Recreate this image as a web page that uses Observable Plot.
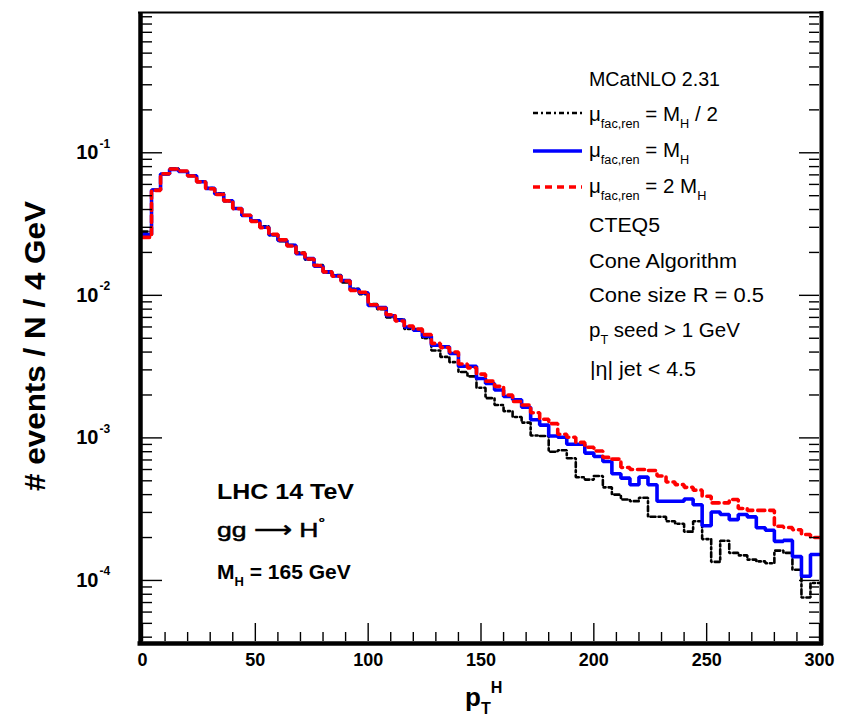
<!DOCTYPE html>
<html><head><meta charset="utf-8">
<script src="https://cdn.jsdelivr.net/npm/d3@7"></script>
<script src="https://cdn.jsdelivr.net/npm/@observablehq/plot@0.6"></script>
<style>
body{margin:0;background:#fff}
svg{font-family:"Liberation Sans",Arial,Helvetica,sans-serif}
</style>
</head><body><div id="chart"></div>
<script>
// Bin lower edges (GeV), 4 GeV bins
const ptLow = [0,4,8,12,16,20,24,28,32,36,40,44,48,52,56,60,64,68,72,76,80,84,88,92,96,
100,104,108,112,116,120,124,128,132,136,140,144,148,152,156,160,164,168,172,176,180,184,188,192,196,
200,204,208,212,216,220,224,228,232,236,240,244,248,252,256,260,264,268,272,276,280,284,288,292,296];
const ptMax = 300;

// mu = MH / 2 (black dash-dot)
const halfMH = [0.0280,0.0550,0.0708,0.0775,0.0738,0.0692,0.0630,0.0565,0.0520,0.0458,
0.0405,0.0362,0.0336,0.0305,0.0264,0.0240,0.0225,0.0200,0.0178,0.0163,
0.0145,0.0139,0.0123,0.0111,0.0102,0.0087,0.0080,0.0070,0.0068,0.0058,
0.0058,0.0050,0.0041,0.0037,0.0034,0.0029,0.0027,0.00225,0.0019,0.0017,
0.00154,0.0014,0.00128,0.00104,0.00103,0.00080,0.00082,0.00072,0.00053,0.00051,
0.00054,0.00045,0.00040,0.00037,0.00036,0.00038,0.00028,0.00028,0.00026,0.00025,
0.00022,0.00026,0.000195,0.000135,0.00019,0.000156,0.00015,0.00014,0.000136,0.000132,
0.000162,0.000156,0.000119,0.000076,0.000096];

// mu = MH (blue solid)
const oneMH = [0.0267,0.0548,0.0710,0.0765,0.0740,0.0690,0.0627,0.0563,0.0514,0.0461,
0.0407,0.0363,0.0334,0.0300,0.0266,0.0243,0.0224,0.0196,0.0181,0.0160,
0.0146,0.0137,0.0127,0.0110,0.0104,0.0085,0.0082,0.0072,0.0067,0.0060,
0.0057,0.00516,0.00447,0.00435,0.00391,0.00318,0.00318,0.00261,0.00241,0.00217,
0.00195,0.00185,0.00164,0.00134,0.00123,0.00103,0.00101,0.000903,0.000903,0.000782,
0.00074,0.000683,0.00056,0.000522,0.000469,0.000531,0.000469,0.000359,0.000359,0.000359,
0.000373,0.00034,0.000242,0.000302,0.00029,0.000267,0.00029,0.000279,0.000234,0.000225,
0.000188,0.000191,0.000147,0.000107,0.000152];

// mu = 2 MH (red dashed)
const twoMH = [0.0255,0.0545,0.0712,0.0770,0.0745,0.0688,0.0625,0.0560,0.0510,0.0460,
0.0405,0.0365,0.0330,0.0298,0.0268,0.0245,0.0222,0.0198,0.0180,0.0162,
0.0146,0.0136,0.0126,0.0108,0.0105,0.0086,0.0081,0.0073,0.0066,0.0061,
0.0058,0.0053,0.0046,0.0043,0.0040,0.0033,0.0031,0.0028,0.0025,0.0023,
0.0020,0.0018,0.0017,0.00150,0.00135,0.00126,0.00106,0.00101,0.00093,0.00086,
0.00081,0.00073,0.00071,0.00062,0.00060,0.00060,0.00059,0.00054,0.00049,0.00047,
0.00045,0.00043,0.00039,0.00035,0.00035,0.00037,0.00032,0.00031,0.00031,0.00031,
0.00024,0.000235,0.000227,0.00021,0.00020];

// Axis ticks and labels
const xMajor = [0,50,100,150,200,250,300];
const xLabels = ["0","50","100","150","200","250","300"];
const xMinor = [10,20,30,40,60,70,80,90,110,120,130,140,160,170,180,190,210,220,230,240,260,270,280,290];
const yMajor = [1e-4,1e-3,1e-2,1e-1];
const yExp = ["-4","-3","-2","-1"];
const yMinor = [4e-5,5e-5,6e-5,7e-5,8e-5,9e-5,
  2e-4,3e-4,4e-4,5e-4,6e-4,7e-4,8e-4,9e-4,
  2e-3,3e-3,4e-3,5e-3,6e-3,7e-3,8e-3,9e-3,
  2e-2,3e-2,4e-2,5e-2,6e-2,7e-2,8e-2,9e-2,
  2e-1,3e-1,4e-1,5e-1,6e-1,7e-1,8e-1,9e-1];
const yDomain = [3.73e-5, 0.964];

function series(vals){
  const d = ptLow.map((x,i)=>({x, y: vals[i]}));
  d.push({x: ptMax, y: vals[vals.length-1]});
  return d;
}

const ink = "#000";
const plot = Plot.plot({
  width: 845, height: 717,
  marginLeft: 142, marginRight: 26, marginTop: 12, marginBottom: 76,
  x: {domain: [0, 300], axis: null},
  y: {type: "log", domain: yDomain, axis: null},
  style: {background: "white", fontFamily: "Liberation Sans, Arial, sans-serif", color: "black"},
  marks: [
    Plot.line(series(halfMH), {x: "x", y: "y", curve: "step-after", stroke: "black", strokeWidth: 2.6, strokeDasharray: "5,3,2,3", strokeLinejoin: "miter"}),
    Plot.line(series(oneMH), {x: "x", y: "y", curve: "step-after", stroke: "#0000ff", strokeWidth: 3.6, strokeLinejoin: "miter"}),
    Plot.line(series(twoMH), {x: "x", y: "y", curve: "step-after", stroke: "#ff0000", strokeWidth: 3.6, strokeDasharray: "7,5", strokeLinejoin: "miter"}),
    // ticks: left
    Plot.ruleY(yMajor, {y: d=>d, x1: 0, x2: 0, insetRight: -20, stroke: ink, strokeWidth: 1.4}),
    Plot.ruleY(yMinor, {y: d=>d, x1: 0, x2: 0, insetRight: -10, stroke: ink, strokeWidth: 1.4}),
    // ticks: right
    Plot.ruleY(yMajor, {y: d=>d, x1: 300, x2: 300, insetLeft: -20, stroke: ink, strokeWidth: 1.4}),
    Plot.ruleY(yMinor, {y: d=>d, x1: 300, x2: 300, insetLeft: -10, stroke: ink, strokeWidth: 1.4}),
    // ticks: bottom
    Plot.ruleX(xMajor, {x: d=>d, y1: yDomain[0], y2: yDomain[0], insetTop: -18, stroke: ink, strokeWidth: 1.4}),
    Plot.ruleX(xMinor, {x: d=>d, y1: yDomain[0], y2: yDomain[0], insetTop: -9, stroke: ink, strokeWidth: 1.4}),
    // frame
    Plot.ruleX([0], {stroke: ink, strokeWidth: 4.5, dx: -2, insetBottom: -4}),
    Plot.ruleX([300], {stroke: ink, strokeWidth: 4, dx: 2, insetBottom: -4, insetTop: -1}),
    Plot.ruleY([yDomain[0]], {stroke: ink, strokeWidth: 4.5, dy: 2, insetLeft: -4.5, insetRight: -4}),
    Plot.ruleY([yDomain[1]], {stroke: ink, strokeWidth: 2, insetLeft: -4, insetRight: -4}),
    // tick labels
    Plot.text(xMajor, {x: d=>d, y: yDomain[0], text: xLabels, dy: 19, fontSize: 18, fontWeight: "bold", fill: ink}),
    Plot.text(yMajor, {y: d=>d, x: 0, text: yMajor.map(()=> "10"), dx: -44, textAnchor: "end", fontSize: 20, fontWeight: "bold", fill: ink}),
    Plot.text(yMajor, {y: d=>d, x: 0, text: yExp, dx: -43, dy: -9, textAnchor: "start", fontSize: 12, fontWeight: "bold", fill: ink})
  ]
});
document.getElementById("chart").appendChild(plot);

const svg = d3.select(plot);
const g = svg.append("g").attr("fill", "black").attr("text-anchor", "start");

function rich(x, y, segs, size, weight, width){
  const t = g.append("text").attr("x", x).attr("y", y)
    .attr("font-size", size).attr("font-weight", weight || "normal")
    .attr("text-anchor", "start");
  let shift = 0;
  for (const s of segs){
    const off = s.sub ? size*0.32 : s.sup ? -size*0.5 : 0;
    const ts = t.append("tspan").attr("dy", off - shift).text(s.t);
    if (s.sub || s.sup) ts.attr("font-size", size*0.62);
    shift = off;
  }
  if (width) t.attr("textLength", width).attr("lengthAdjust", "spacingAndGlyphs");
  return t;
}

// axis titles
g.append("text").attr("transform", "translate(45,346) rotate(-90)")
  .attr("text-anchor", "middle").attr("font-size", 29).attr("font-weight", "bold")
  .attr("textLength", 290).attr("lengthAdjust", "spacingAndGlyphs")
  .text("# events / N / 4 GeV");
rich(465, 706, [{t:"p"},{t:"T", sub:true},{t:"H", sup:true}], 26, "bold");

// legend / info block
const fs = 20.5;
rich(589, 86, [{t:"MCatNLO 2.31"}], fs, null, 131);
rich(589, 121, [{t:"μ"},{t:"fac,ren", sub:true},{t:" = M"},{t:"H", sub:true},{t:" / 2"}], fs);
rich(589, 157, [{t:"μ"},{t:"fac,ren", sub:true},{t:" = M"},{t:"H", sub:true}], fs);
rich(589, 193, [{t:"μ"},{t:"fac,ren", sub:true},{t:" = 2 M"},{t:"H", sub:true}], fs);
rich(589, 232, [{t:"CTEQ5"}], fs, null, 71);
rich(589, 268, [{t:"Cone Algorithm"}], fs, null, 148);
rich(589, 302, [{t:"Cone size R = 0.5"}], fs, null, 175);
rich(589, 337, [{t:"p"},{t:"T", sub:true},{t:" seed > 1 GeV"}], fs);
rich(590, 376, [{t:"|η| jet < 4.5"}], fs, null, 106);

const leg = svg.append("g").attr("fill", "none");
leg.append("line").attr("x1", 533).attr("x2", 582).attr("y1", 113).attr("y2", 113)
  .attr("stroke", "black").attr("stroke-width", 2.6).attr("stroke-dasharray", "5,3,2,3");
leg.append("line").attr("x1", 533).attr("x2", 582).attr("y1", 151).attr("y2", 151)
  .attr("stroke", "#0000ff").attr("stroke-width", 3.6);
leg.append("line").attr("x1", 533).attr("x2", 582).attr("y1", 187).attr("y2", 187)
  .attr("stroke", "#ff0000").attr("stroke-width", 3.6).attr("stroke-dasharray", "7,5");

// process block
rich(217, 499, [{t:"LHC 14 TeV"}], 22, "bold", 137);
rich(217, 537, [{t:"gg ⟶ H"},{t:"°", sup:true}], 21, "normal", 108)
  .attr("stroke", "black").attr("stroke-width", 0.5);
rich(217, 579, [{t:"M"},{t:"H", sub:true},{t:" = 165 GeV"}], 21, "bold");
</script>
</body></html>
